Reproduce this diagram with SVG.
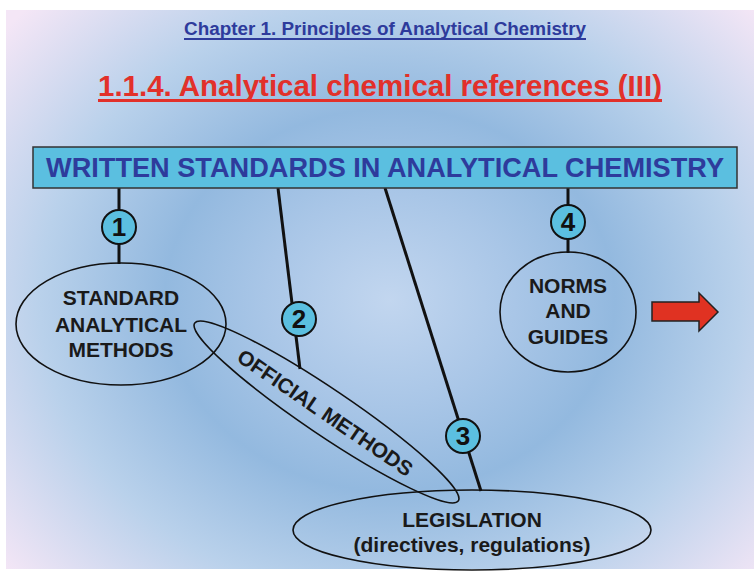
<svg xmlns="http://www.w3.org/2000/svg" width="754" height="571" viewBox="0 0 754 571">
<defs>
<radialGradient id="bg" cx="390" cy="300" r="500" gradientUnits="userSpaceOnUse" gradientTransform="translate(390 300) scale(1 0.85) translate(-390 -300)">
<stop offset="0" stop-color="#c2d6ef"/>
<stop offset="0.25" stop-color="#a9c6e7"/>
<stop offset="0.45" stop-color="#93b9df"/>
<stop offset="0.7" stop-color="#b9d1eb"/>
<stop offset="1" stop-color="#f4e6f6"/>
</radialGradient>
<style>
.t{font-family:"Liberation Sans",Arial,sans-serif;font-weight:bold;text-anchor:middle}
.node text{fill:#1a1a1a;font-size:21px}
.oval{fill:none;stroke:#111;stroke-width:1.6}
.num circle{fill:#5bbfe0;stroke:#111;stroke-width:2}
.num text{fill:#111;font-size:26px}
.conn line{stroke:#111;stroke-width:3}
</style>
</defs>
<rect x="0" y="0" width="754" height="571" fill="#ffffff"/>
<rect x="6" y="10" width="748" height="559" fill="url(#bg)"/>

<g id="chapter">
<text class="t" x="385" y="35" font-size="18" fill="#2e3b9c" textLength="402" lengthAdjust="spacingAndGlyphs">Chapter 1. Principles of Analytical Chemistry</text>
<rect x="184" y="38" width="402" height="2" fill="#2e3b9c"/>
</g>
<g id="title">
<text class="t" x="380" y="96" font-size="29.5" fill="#e2302a" textLength="564" lengthAdjust="spacingAndGlyphs">1.1.4. Analytical chemical references (III)</text>
<rect x="98" y="99" width="564" height="3" fill="#e2302a"/>
</g>

<g class="conn" id="connectors">
<line x1="119" y1="188" x2="119" y2="264"/>
<line x1="278" y1="188" x2="300" y2="369"/>
<line x1="385" y1="188" x2="481" y2="491"/>
<line x1="568" y1="188" x2="568" y2="253"/>
</g>

<g id="header">
<rect x="33" y="147" width="704" height="41" fill="#5bbfe0" stroke="#333" stroke-width="1.5"/>
<text class="t" x="385" y="177" font-size="27" fill="#2e3b9c" textLength="678" lengthAdjust="spacingAndGlyphs">WRITTEN STANDARDS IN ANALYTICAL CHEMISTRY</text>
</g>

<g id="standard" class="node t">
<ellipse class="oval" cx="121" cy="324" rx="105" ry="61"/>
<text x="121" y="305">STANDARD</text>
<text x="121" y="332">ANALYTICAL</text>
<text x="121" y="357">METHODS</text>
</g>

<g id="official" class="node t">
<ellipse class="oval" cx="326.5" cy="412" rx="159" ry="23" transform="rotate(34 326.5 412)"/>
<text x="325" y="420" font-size="20.5" transform="rotate(34.4 325 413)">OFFICIAL METHODS</text>
</g>

<g id="legislation" class="node t">
<ellipse class="oval" cx="472" cy="530" rx="179" ry="40"/>
<text x="472" y="527">LEGISLATION</text>
<text x="472" y="552">(directives, regulations)</text>
</g>

<g id="norms" class="node t">
<ellipse class="oval" cx="568" cy="312" rx="68" ry="60"/>
<text x="568" y="293">NORMS</text>
<text x="568" y="318">AND</text>
<text x="568" y="344">GUIDES</text>
</g>

<g id="n1" class="num t"><circle cx="119" cy="227" r="17"/><text x="119" y="236">1</text></g>
<g id="n2" class="num t"><circle cx="299" cy="319" r="17"/><text x="299" y="328">2</text></g>
<g id="n3" class="num t"><circle cx="463" cy="436" r="17"/><text x="463" y="445">3</text></g>
<g id="n4" class="num t"><circle cx="568" cy="222" r="17"/><text x="568" y="231">4</text></g>

<g id="arrow">
<polygon points="652,302 699,302 699,293 718,312 699,331 699,321 652,321" fill="#e03222" stroke="#222" stroke-width="1.5"/>
</g>
</svg>
